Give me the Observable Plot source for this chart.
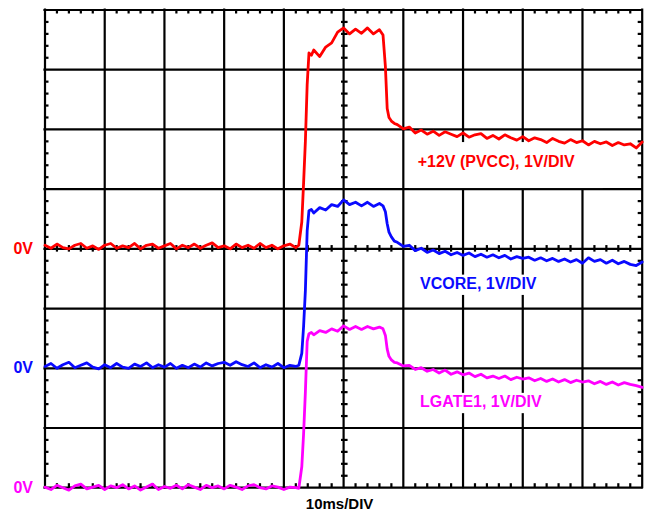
<!DOCTYPE html>
<html>
<head>
<meta charset="utf-8">
<script src="https://cdn.jsdelivr.net/npm/d3@7"></script>
<script src="https://cdn.jsdelivr.net/npm/@observablehq/plot@0.6"></script>
<style>
  html, body { margin: 0; padding: 0; background: #fff; }
  svg { display: block; }
</style>
</head>
<body>
<div id="chart"></div>
<script>
// Sample times (ms), 10 ms/DIV, 10 divisions
const time = [
  0,1,2,3,4,5,6,7,8,9,10,11,12,13,14,15,16,17,18,19,20,21,22,23,24,25,26,27,28,29,30,31,32,33,34,35,36,37,38,39,40,41,42,
  42.5,43,43.3,43.6,43.9,44.2,44.6,
  45,46,47,48,49,50,51,52,53,54,55,56,
  56.6,57,57.3,57.6,58,58.5,
  59,60,61,62,63,64,65,66,67,68,69,70,71,72,73,74,75,76,77,78,79,80,81,82,83,84,85,86,87,88,89,90,91,92,93,94,95,96,97,98,99,100
];

// +12V (PVCC), volts above its own 0V marker (1 V/DIV)
const pvcc = [
  0.06,0.01,0.08,0.02,0.00,0.06,0.09,0.01,0.05,-0.01,
  0.06,0.09,0.01,0.05,0.02,0.09,0.00,0.06,0.08,0.01,
  0.05,0.09,0.00,0.06,0.02,0.08,0.01,0.06,0.10,0.02,
  0.05,0.00,0.08,0.02,0.06,0.01,0.09,0.02,0.06,0.00,
  0.05,0.08,0.02,
  0.06,0.45,1.10,1.80,2.75,3.28,3.24,
  3.33,3.22,3.38,3.45,3.63,3.70,3.60,3.68,3.61,3.70,3.60,3.67,
  3.58,3.05,2.35,2.20,2.14,2.10,
  2.08,2.01,2.04,1.94,1.99,1.92,1.97,1.90,1.96,1.92,1.88,1.94,1.87,1.91,1.93,1.85,1.90,1.84,1.91,1.86,1.82,
  1.88,1.81,1.86,1.83,1.78,1.85,1.80,1.77,1.83,1.78,1.81,1.74,1.80,1.76,1.79,1.73,1.78,1.74,1.76,1.69,1.79
];

// VCORE
const vcore = [
  0.03,0.08,0.00,0.06,0.10,0.01,0.05,0.09,0.02,-0.01,
  0.06,0.01,0.08,0.02,0.00,0.07,0.03,0.09,0.01,0.06,
  0.02,0.08,0.00,0.05,0.01,0.07,0.02,0.09,0.04,0.08,
  0.10,0.05,0.11,0.06,0.03,0.09,0.01,0.06,0.02,0.08,
  0.01,0.05,0.03,
  0.05,0.25,0.70,1.30,2.30,2.64,2.66,
  2.60,2.69,2.65,2.74,2.71,2.82,2.74,2.78,2.72,2.78,2.71,2.76,
  2.72,2.62,2.42,2.28,2.20,2.13,
  2.11,2.04,2.06,1.97,2.01,1.94,1.98,1.92,1.96,1.90,1.94,1.89,1.93,1.87,1.91,1.86,1.90,1.85,1.89,1.83,1.87,
  1.84,1.86,1.81,1.85,1.80,1.84,1.79,1.83,1.78,1.82,1.76,1.85,1.79,1.82,1.76,1.81,1.75,1.79,1.74,1.72,1.78
];

// LGATE1
const lgate1 = [
  0.01,-0.03,0.04,0.00,-0.04,0.03,0.06,-0.02,0.01,0.04,
  -0.03,0.03,0.00,0.05,-0.02,0.03,-0.04,0.01,0.06,-0.03,
  0.02,-0.01,0.04,-0.02,0.05,0.01,-0.03,0.04,0.00,0.03,
  -0.02,0.04,0.01,-0.03,0.03,0.05,0.00,-0.02,0.03,0.01,
  -0.03,0.01,0.00,
  -0.01,0.35,0.90,1.60,2.45,2.58,2.60,
  2.56,2.63,2.60,2.66,2.62,2.71,2.65,2.70,2.65,2.70,2.66,2.69,
  2.66,2.55,2.32,2.20,2.14,2.10,
  2.09,2.04,2.05,1.98,2.01,1.95,1.98,1.92,1.97,1.90,1.94,1.89,1.92,1.86,1.90,1.84,1.87,1.83,1.87,1.81,1.85,
  1.82,1.84,1.79,1.83,1.78,1.82,1.77,1.81,1.76,1.80,1.77,1.79,1.74,1.78,1.73,1.77,1.72,1.76,1.73,1.71,1.68
];

const channelNames = ["+12V (PVCC), 1V/DIV", "VCORE, 1V/DIV", "LGATE1, 1V/DIV"];
const zeroLabel = "0V";
const timebaseLabel = "10ms/DIV";

// display configuration (screen offsets in divisions, label placement, colours)
const channels = [
  {name: channelNames[0], values: pvcc,   offset: 4, color: "#ff0000", lx: 62.4, ly: 5.45, box: [61.0, 93.5, 5.01, 5.78]},
  {name: channelNames[1], values: vcore,  offset: 2, color: "#0a0aff", lx: 62.8, ly: 3.42, box: [61.0, 84.0, 3.22, 3.56]},
  {name: channelNames[2], values: lgate1, offset: 0, color: "#ff00ff", lx: 62.8, ly: 1.43, box: [61.0, 85.0, 1.24, 1.58]}
];

const pxPerDivX = 59.72;
const tickX = 4 / pxPerDivX * 10; // ms
const tickY = 4 / pxPerDivX;      // div

const majorX = d3.range(0, 101, 10);
const majorY = d3.range(0, 9, 1);
const minorX = d3.range(0, 101, 2).filter(t => t % 10 !== 0);
const minorY = d3.range(1, 40).filter(i => i % 5 !== 0).map(i => i / 5);

const grid = {stroke: "#000", strokeWidth: 2.2};
const marks = [
  Plot.ruleX(majorX, {...grid, strokeLinecap: "square"}),
  Plot.ruleY(majorY, {...grid, strokeLinecap: "square"}),
  Plot.ruleX(minorX, {...grid, y1: 8, y2: 8 - tickY}),
  Plot.ruleX(minorX, {...grid, y1: 0, y2: tickY}),
  Plot.ruleX(minorX, {...grid, y1: 4 - 0.055, y2: 4 + 0.055}),
  Plot.ruleY(minorY, {...grid, x1: 0, x2: tickX}),
  Plot.ruleY(minorY, {...grid, x1: 100 - tickX, x2: 100}),
  Plot.ruleY(minorY, {...grid, x1: 50 - 0.35, x2: 50 + 0.75})
];

for (const ch of channels) {
  marks.push(Plot.rect([ch.box], {x1: d => d[0], x2: d => d[1], y1: d => d[2], y2: d => d[3], fill: "#fff"}));
  marks.push(Plot.text([ch], {x: d => d.lx, y: d => d.ly, text: d => d.name, fill: ch.color,
    textAnchor: "start", fontSize: 16, fontWeight: "bold"}));
}
for (const ch of channels) {
  const rows = time.map((t, i) => ({t, v: ch.values[i] + ch.offset}));
  marks.push(Plot.line(rows, {x: "t", y: "v", stroke: ch.color, strokeWidth: 2.8, strokeLinejoin: "round"}));
  marks.push(Plot.text([ch], {x: () => 0, y: d => d.offset, text: () => zeroLabel, fill: ch.color,
    textAnchor: "end", dx: -12, fontSize: 16, fontWeight: "bold"}));
}
marks.push(Plot.text([timebaseLabel], {x: () => 50, y: () => 0, text: d => d, dx: -4, dy: 16,
  fill: "#000", fontSize: 15, fontWeight: "bold"}));

const chart = Plot.plot({
  width: 647,
  height: 510,
  marginLeft: 44.5,
  marginRight: 5.3,
  marginTop: 9.5,
  marginBottom: 22.8,
  x: {domain: [0, 100], axis: null},
  y: {domain: [0, 8], axis: null},
  style: {fontFamily: "'Liberation Sans', Arial, Helvetica, sans-serif", background: "#fff", overflow: "visible"},
  marks
});
document.getElementById("chart").appendChild(chart);
</script>
</body>
</html>
